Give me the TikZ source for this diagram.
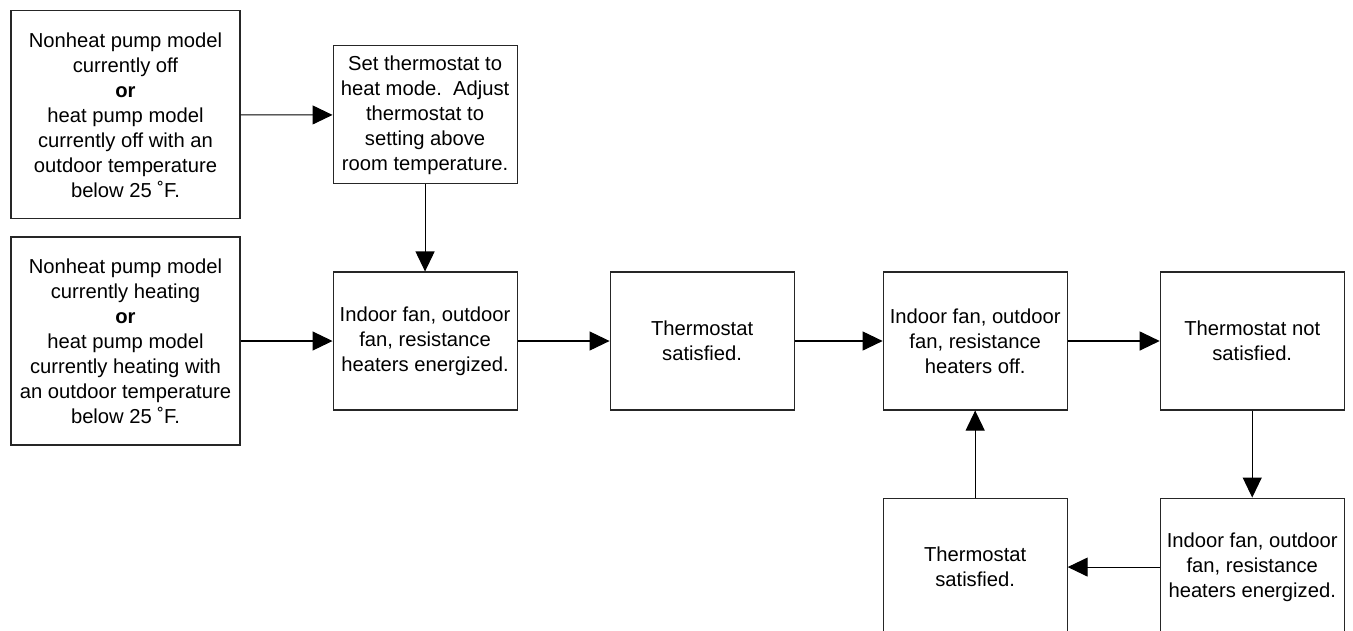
\documentclass[tikz,border=0pt]{standalone}
\usepackage{fontspec}
\setmainfont{Liberation Sans}
\usetikzlibrary{arrows.meta,positioning}
\tikzset{
  bigbox/.style={rectangle, draw=black!85, line width=0.6pt, align=center,
    minimum width=4.58cm, minimum height=4.16cm, inner sep=2pt,
    font=\fontsize{11.5}{14.2}\selectfont},
  smallbox/.style={rectangle, draw=black!85, line width=0.6pt, align=center,
    minimum width=3.68cm, minimum height=2.76cm, inner sep=2pt,
    font=\fontsize{11.5}{14.2}\selectfont},
  arr/.style={-{Triangle[length=4mm, width=3.8mm]}, line width=0.6pt, black},
}

\begin{document}
\begin{tikzpicture}[node distance=1.84cm]

\useasboundingbox (-2.51,-5.78) rectangle (24.55,6.82);
\clip (-2.51,-5.78) rectangle (24.55,6.82);

% ================= START CONDITIONS =================
\node[bigbox] (heating) at (0,0)
  {Nonheat pump model\\currently heating\\\textbf{or}\\heat pump model\\
   currently heating with\\an outdoor temperature\\below 25 ˚F.};
\node[bigbox, above=0.34cm of heating] (off)
  {Nonheat pump model\\currently off\\\textbf{or}\\heat pump model\\
   currently off with an\\outdoor temperature\\below 25 ˚F.};

% ================= MAIN ROW =================
\node[smallbox, right=1.84cm of heating] (energ1)
  {Indoor fan, outdoor\\fan, resistance\\heaters energized.};
\node[smallbox, above=1.74cm of energ1] (setmode)
  {Set thermostat to\\heat mode.\ \ Adjust\\thermostat to\\setting above\\room temperature.};
\node[smallbox, right=of energ1] (sat1) {Thermostat\\satisfied.};
\node[smallbox, right=1.76cm of sat1] (heatoff)
  {Indoor fan, outdoor\\fan, resistance\\heaters off.};
\node[smallbox, right=of heatoff] (notsat) {Thermostat not\\satisfied.};

% ================= LOOP BACK =================
\node[smallbox, below=1.74cm of notsat] (energ2)
  {Indoor fan, outdoor\\fan, resistance\\heaters energized.};
\node[smallbox, below=1.74cm of heatoff] (sat2) {Thermostat\\satisfied.};

% ================= ARROWS =================
\draw[arr] (off) -- (setmode);
\draw[arr] (heating) -- (energ1);
\draw[arr] (setmode) -- (energ1);
\draw[arr] (energ1) -- (sat1);
\draw[arr] (sat1) -- (heatoff);
\draw[arr] (heatoff) -- (notsat);
\draw[arr] (notsat) -- (energ2);
\draw[arr] (energ2) -- (sat2);
\draw[arr] (sat2) -- (heatoff);

\end{tikzpicture}
\end{document}
